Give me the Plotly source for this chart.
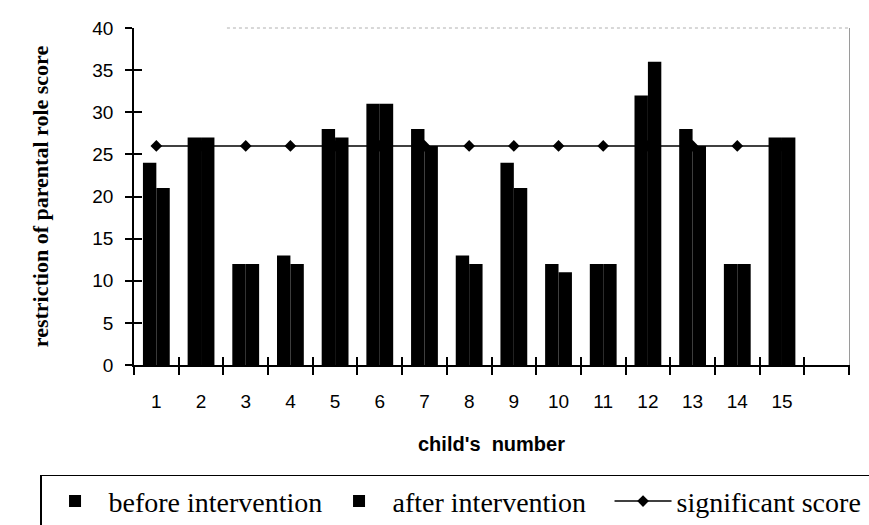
import plotly.graph_objects as go

# ---- data ----
children = list(range(1, 16))
tick_labels = [str(c) for c in children]
before_intervention = [24, 27, 12, 13, 28, 31, 28, 13, 24, 12, 12, 32, 28, 12, 27]
after_intervention = [21, 27, 12, 12, 27, 31, 26, 12, 21, 11, 12, 36, 26, 12, 27]
significant_score = [26, 26, 26, 26, 26, 26, 26, 26, 26, 26, 26, 26, 26, 26, 26]

x_range = [0.5, 16.5]
y_range = [0, 40]
boundaries = [c - 0.5 for c in children] + [15.5, 16.5]

fig = go.Figure()

# line below the bars (base subplot)
fig.add_trace(go.Scatter(
    x=children, y=significant_score, name="significant score",
    mode="lines+markers", line=dict(color="black", width=1.5),
    marker=dict(symbol="diamond", size=9, color="black"),
    xaxis="x", yaxis="y", legendrank=3,
))

# bars on overlay subplot (drawn on top of line)
fig.add_trace(go.Bar(
    x=children, y=before_intervention, name="before intervention",
    marker=dict(color="black", line=dict(width=0)),
    xaxis="x2", yaxis="y2", legendrank=1,
))
fig.add_trace(go.Bar(
    x=children, y=after_intervention, name="after intervention",
    marker=dict(color="black", line=dict(width=0)),
    xaxis="x2", yaxis="y2", legendrank=2,
))

# dummy trace for the extra tick/border axes
fig.add_trace(go.Scatter(
    x=[1], y=[None], xaxis="x3", yaxis="y3", showlegend=False,
    hoverinfo="skip", mode="markers",
))

axis_font = dict(family="Liberation Sans, Arial", size=19, color="black")

fig.update_layout(
    width=869, height=525,
    margin=dict(l=134, r=20, t=28, b=160, autoexpand=False),
    paper_bgcolor="white", plot_bgcolor="white",
    barmode="group", bargap=0.4, bargroupgap=0,
    xaxis=dict(
        range=x_range, tickvals=children, ticktext=tick_labels,
        ticks="", showline=True, linecolor="black", linewidth=1.5,
        showgrid=False, zeroline=False, tickfont=axis_font,
        ticklabelstandoff=18, automargin=False,
        title=dict(text="<b>child's  number</b>",
                   font=dict(family="Liberation Sans, Arial", size=20, color="black"),
                   standoff=26),
    ),
    yaxis=dict(
        range=y_range, tickvals=list(range(0, 41, 5)),
        ticks="outside", ticklen=7, tickwidth=1.5, tickcolor="black",
        showline=True, linecolor="black", linewidth=1.5,
        showgrid=False, zeroline=False, tickfont=axis_font,
        ticklabelstandoff=8, automargin=False,
        title=dict(text="<b>restriction of parental role score</b>",
                   font=dict(family="Liberation Serif, Times New Roman", size=22, color="black"),
                   standoff=38),
    ),
    xaxis2=dict(
        overlaying="x", anchor="y2", side="bottom", range=x_range,
        tickvals=boundaries, ticks="outside", ticklen=9, tickwidth=1.5,
        tickcolor="black", showticklabels=False, showline=False,
        showgrid=False, zeroline=False,
    ),
    yaxis2=dict(
        overlaying="y", anchor="x2", side="left", range=y_range,
        tickvals=list(range(0, 41, 5)), ticks="inside", ticklen=8,
        tickwidth=1.5, tickcolor="black", showticklabels=False,
        showline=False, showgrid=False, zeroline=False,
    ),
    xaxis3=dict(
        overlaying="x", anchor="y3", side="bottom", range=x_range,
        tickvals=boundaries, ticks="inside", ticklen=8, tickwidth=1.5,
        tickcolor="black", showticklabels=False, showline=False,
        showgrid=False, zeroline=False,
    ),
    yaxis3=dict(
        overlaying="y", anchor="x3", side="right", range=y_range,
        ticks="", showticklabels=False, showline=True,
        linecolor="#9a9a9a", linewidth=1, showgrid=False, zeroline=False,
    ),
    showlegend=True,
    legend=dict(
        orientation="h", x=-0.131, xanchor="left", y=-0.327, yanchor="top",
        bordercolor="black", borderwidth=1.2, bgcolor="white",
        font=dict(family="Liberation Serif, Times New Roman", size=28, color="black"),
        entrywidth=212, itemwidth=57, traceorder="normal",
    ),
    shapes=[dict(
        type="line", xref="x domain", yref="y domain",
        x0=0.13, x1=1, y0=1, y1=1, layer="below",
        line=dict(color="#b0b0b0", width=1, dash="dot"),
    )],
)

fig.write_html("out.html")
